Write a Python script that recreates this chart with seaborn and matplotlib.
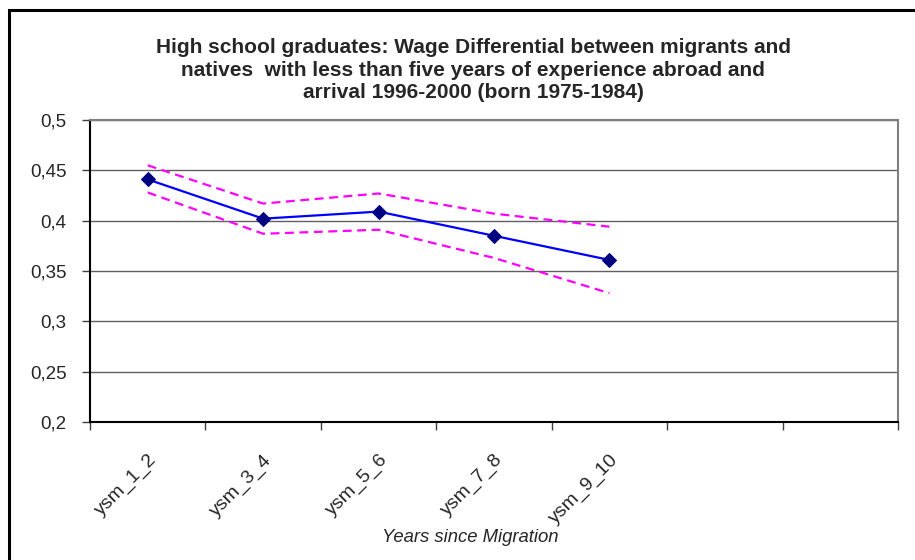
import seaborn as sns
import pandas as pd
import matplotlib.pyplot as plt
from matplotlib.patches import Rectangle
from matplotlib.ticker import FuncFormatter

# Data
categories = ["ysm_1_2", "ysm_3_4", "ysm_5_6", "ysm_7_8", "ysm_9_10"]
differential = [0.441, 0.402, 0.409, 0.385, 0.361]
upper_bound = [0.455, 0.417, 0.427, 0.407, 0.394]
lower_bound = [0.428, 0.387, 0.391, 0.363, 0.328]
n_slots = 7  # Excel axis keeps two empty category slots on the right

df = pd.DataFrame({"ysm": categories, "diff": differential,
                   "upper": upper_bound, "lower": lower_bound})

sns.set_style("white")
plt.rcParams['font.family'] = ['Liberation Sans', 'DejaVu Sans']

fig = plt.figure(figsize=(9.15, 5.6), dpi=100)
ax = fig.add_axes([90 / 915, 1 - 422 / 560, 808 / 915, 302 / 560])

# confidence bounds
for col in ["upper", "lower"]:
    sns.lineplot(data=df, x="ysm", y=col, ax=ax, color="#FF00FF",
                 linewidth=1.6, dashes=False, zorder=3)
for line in ax.lines:
    line.set_linestyle((0, (4, 2.5)))

# point estimate
sns.lineplot(data=df, x="ysm", y="diff", ax=ax, color="#0000FF", linewidth=1.6,
             marker="D", markersize=7.5, markerfacecolor="#000080",
             markeredgecolor="#000080", zorder=4)

ax.set_xlim(-0.5, n_slots - 0.5)
ax.set_ylim(0.2, 0.5)
ax.set_yticks([0.2, 0.25, 0.3, 0.35, 0.4, 0.45, 0.5])
ax.yaxis.set_major_formatter(FuncFormatter(lambda v, p: f"{v:g}".replace(".", ",")))
ax.grid(axis="y", color="#606060", linewidth=1)
ax.set_axisbelow(True)

ax.set_xticks(range(len(categories)))
ax.set_xticklabels(categories, rotation=45, ha="right", va="top",
                   rotation_mode="anchor")
ax.set_xticks([i - 0.5 for i in range(n_slots + 1)], minor=True)
ax.tick_params(axis="x", which="major", length=0, pad=21, labelsize=14)
ax.tick_params(axis="x", which="minor", length=6, width=1, color="#404040",
               direction="out", bottom=True)
ax.tick_params(axis="y", length=6, width=1, color="#404040", direction="out",
               left=True, pad=11, labelsize=13.5)
ax.set_xlabel("")
ax.set_ylabel("")

for side in ["left", "bottom"]:
    ax.spines[side].set_color("black")
    ax.spines[side].set_linewidth(1.5)
for side in ["top", "right"]:
    ax.spines[side].set_color("#808080")
    ax.spines[side].set_linewidth(1.5)

fig.text(473 / 915, 1 - 70 / 560,
         "High school graduates: Wage Differential between migrants and\n"
         "natives  with less than five years of experience abroad and\n"
         "arrival 1996-2000 (born 1975-1984)",
         ha="center", va="center", fontsize=15, fontweight="bold",
         linespacing=1.25)
fig.text(470 / 915, 1 - 537 / 560, "Years since Migration", ha="center",
         va="center", fontsize=13.3, style="italic")

# outer chart frame (right and bottom edges fall outside the image)
fig.patches.append(Rectangle((9 / 915, -0.05), 1.0, 1 - 9.5 / 560 + 0.05,
                             transform=fig.transFigure, fill=False,
                             edgecolor="black", linewidth=2.2))

fig.savefig("out.png", dpi=100)
